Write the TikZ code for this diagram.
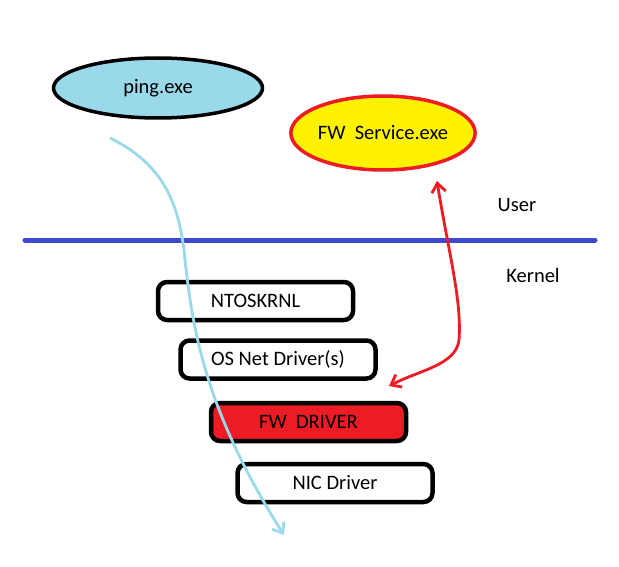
\documentclass[tikz,border=0pt]{standalone}
\usepackage{fontspec}
\setmainfont{Carlito}
\usepackage{xcolor}
\usetikzlibrary{positioning,arrows.meta,shapes.geometric,calc}
\definecolor{paintblue}{HTML}{99D9EA}
\definecolor{paintred}{HTML}{ED1C24}
\definecolor{paintyellow}{HTML}{FFF200}
\definecolor{paintindigo}{HTML}{3F48CC}

\begin{document}
\begin{tikzpicture}[
  x=1pt, y=-1pt,
  every node/.style={font=\fontsize{20.5}{24}\selectfont},
  proc/.style={draw, ellipse, line width=3.5pt, inner sep=0pt},
  drv/.style={draw, line width=4.5pt, rounded corners=9pt, minimum width=195pt, minimum height=38pt, inner sep=0pt},
  flow/.style={line width=2.8pt, -{Straight Barb[length=9pt,width=14pt]}},
  ipc/.style={line width=2.8pt, paintred, {Straight Barb[length=9pt,width=14pt]}-{Straight Barb[length=9pt,width=14pt]}}]

  \useasboundingbox (0,0) rectangle (619,567);

  % user mode processes
  \node[proc, fill=paintblue, minimum width=209pt, minimum height=60pt] (ping) at (158,88) {ping.exe};
  \node[proc, draw=paintred, fill=paintyellow, minimum width=184pt, minimum height=74pt] (svc) at (383,133) {FW\ \ Service.exe};

  % user / kernel boundary
  \coordinate (bl) at (25,240);
  \coordinate (br) at (595,240);
  \draw[paintindigo, line width=5pt, line cap=round] (bl) -- (br);
  \node (user) at (517,205) {User};
  \node (kernel) at (533,275) {Kernel};

  % driver stack
  \node[drv] (nt) at (255.5,301) {NTOSKRNL};
  \node[drv] (osnet) at (278,359.5) {OS Net Driver(s)};
  \node[drv, fill=paintred] (fwdrv) at (308.5,422) {FW\ \ DRIVER};
  \node[drv] (nic) at (335,483) {NIC Driver};

  % packet path
  \coordinate (pstart) at (110,138);
  \coordinate (pend) at (284,535);
  \draw[flow, paintblue] (pstart) .. controls (165,165) and (178,205) .. (184,250)
    .. controls (192,330) and (205,410) .. (pend);

  % service <-> driver
  \coordinate (stop) at (437,181);
  \coordinate (sbot) at (389,386);
  \draw[ipc] (stop) .. controls (448,250) and (462,300) .. (459,340)
    .. controls (456,365) and (420,370) .. (sbot);
\end{tikzpicture}
\end{document}
